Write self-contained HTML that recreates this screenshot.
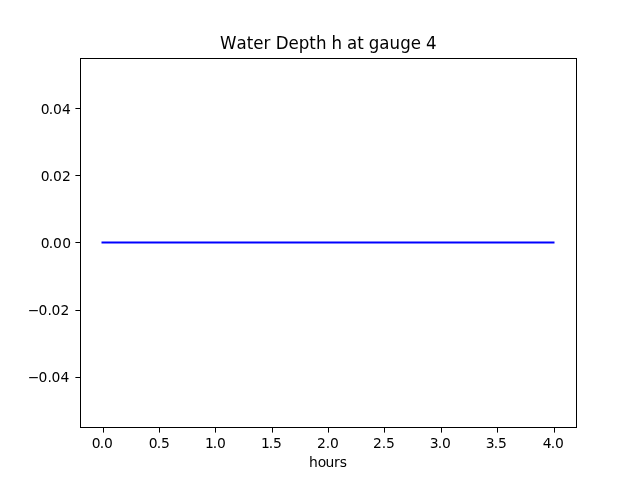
<!DOCTYPE html>
<html><head><meta charset="utf-8"><title>Water Depth h at gauge 4</title>
<style>
html,body{margin:0;padding:0;background:#fff;overflow:hidden}
svg{display:block}
.t{font-family:"DejaVu Sans","Liberation Sans",sans-serif;font-size:13.89px;fill:#000}
.ti{font-family:"DejaVu Sans","Liberation Sans",sans-serif;font-size:16.67px;fill:#000;font-kerning:none}
</style></head><body>
<svg width="640" height="480" viewBox="0 0 640 480">
<rect width="640" height="480" fill="#fff"/>
<g fill="#000" shape-rendering="crispEdges">
<rect x="80" y="58" width="497" height="1"/>
<rect x="80" y="427" width="497" height="1"/>
<rect x="80" y="58" width="1" height="370"/>
<rect x="576" y="58" width="1" height="370"/>
</g>
<g fill="#000">
<rect x="103" y="428" width="1" height="4.6"/>
<rect x="159" y="428" width="1" height="4.6"/>
<rect x="215" y="428" width="1" height="4.6"/>
<rect x="272" y="428" width="1" height="4.6"/>
<rect x="328" y="428" width="1" height="4.6"/>
<rect x="384" y="428" width="1" height="4.6"/>
<rect x="441" y="428" width="1" height="4.6"/>
<rect x="497" y="428" width="1" height="4.6"/>
<rect x="554" y="428" width="1" height="4.6"/>
<rect x="75.4" y="377" width="4.6" height="1"/>
<rect x="75.4" y="310" width="4.6" height="1"/>
<rect x="75.4" y="242" width="4.6" height="1"/>
<rect x="75.4" y="175" width="4.6" height="1"/>
<rect x="75.4" y="108" width="4.6" height="1"/>
</g>
<text x="91.70 99.65 104.05" y="448" class="t">0.0</text>
<text x="148.70 156.65 161.05" y="448" class="t">0.5</text>
<text x="205.00 212.65 217.05" y="448" class="t">1.0</text>
<text x="261.00 268.65 273.05" y="448" class="t">1.5</text>
<text x="317.10 325.65 330.05" y="448" class="t">2.0</text>
<text x="373.10 381.65 386.05" y="448" class="t">2.5</text>
<text x="429.70 437.65 442.05" y="448" class="t">3.0</text>
<text x="485.70 493.65 498.05" y="448" class="t">3.5</text>
<text x="542.70 550.65 555.05" y="448" class="t">4.0</text>
<text x="27.65 38.6 47.4 51.55 60.45" y="382" class="t">−0.04</text>
<text x="27.65 38.6 47.4 51.55 60.4" y="315" class="t">−0.02</text>
<text x="40.87 48.7 53.07 62.3" y="248" class="t">0.00</text>
<text x="40.87 48.7 53.07 62.0" y="181" class="t">0.02</text>
<text x="40.87 48.7 53.07 61.9" y="114" class="t">0.04</text>
<line x1="101.5" y1="242.45" x2="554.5" y2="242.45" stroke="#0000ff" stroke-width="2.08"/>
<text x="309.1 317.7 325.6 334.0 339.7" y="466.6" class="t">hours</text>
<text class="ti" transform="translate(0,49) scale(1,1.075)" y="0"><tspan x="220">Water </tspan><tspan x="275.7">Depth </tspan><tspan x="331.4">h </tspan><tspan x="347.1">at </tspan><tspan x="368.8">gauge </tspan><tspan x="426.1">4</tspan></text>
</svg>
</body></html>
